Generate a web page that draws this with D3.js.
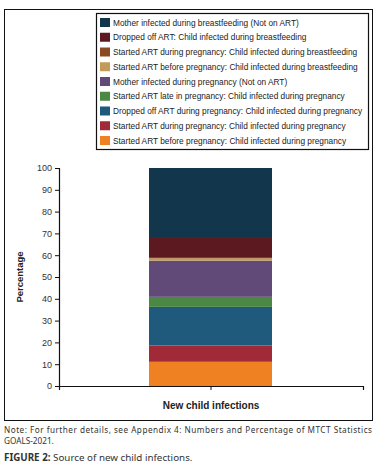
<!DOCTYPE html>
<html><head><meta charset="utf-8">
<script src="https://cdn.jsdelivr.net/npm/d3@7"></script>
<style>
body{margin:0;background:#fff;}
svg{display:block;font-family:"Liberation Sans Narrow","Liberation Sans",Arial,sans-serif;}
</style></head><body>
<svg id="c" width="380" height="475"></svg>
<script>
// Series (bottom to top) and their values (percent)
const seriesNames = [
  "Started ART before pregnancy: Child infected during pregnancy",
  "Started ART during pregnancy: Child infected during pregnancy",
  "Dropped off ART during pregnancy: Child infected during pregnancy",
  "Started ART late in pregnancy: Child infected during pregnancy",
  "Mother infected during pregnancy (Not on ART)",
  "Started ART before pregnancy: Child infected during breastfeeding",
  "Started ART during pregnancy: Child infected during breastfeeding",
  "Dropped off ART: Child infected during breastfeeding",
  "Mother infected during breastfeeding (Not on ART)"
];
const seriesValues = [11.1, 7.5, 17.7, 4.6, 16.6, 1.1, 0.2, 9.1, 32.1];
const seriesColors = ["#ef8123","#a02a37","#1f597c","#4a8844","#614a78","#c49a5a","#8b4a22","#5c1a20","#12364b"];
const categories = ["New child infections"];
const yTicks = [0,10,20,30,40,50,60,70,80,90,100];

const svg = d3.select("#c");

// outer frame
svg.append("rect").attr("x",4.5).attr("y",9.5).attr("width",368).attr("height",411)
  .attr("fill","none").attr("stroke","#111").attr("stroke-width",1);

// legend box
const lg = svg.append("g");
lg.append("rect").attr("x",96.5).attr("y",13.5).attr("width",272).attr("height",136)
  .attr("fill","none").attr("stroke","#111").attr("stroke-width",1.2);
const legendOrder = d3.range(seriesNames.length).reverse();
const ly = d3.scalePoint().domain(legendOrder).range([22.5,140.5]);
legendOrder.forEach(i=>{
  const y = ly(i);
  lg.append("rect").attr("x",100).attr("y",y-4.5).attr("width",10).attr("height",9).attr("fill",seriesColors[i]);
  lg.append("text").attr("x",113).attr("y",y+3).attr("font-size",8.3).attr("fill","#222")
    .attr("font-family","'Liberation Sans Narrow','Liberation Sans',Arial,sans-serif")
    .text(seriesNames[i]);
});

// scales
const x = d3.scaleBand().domain(categories).range([59,363]).paddingInner(0).paddingOuter(0);
const y = d3.scaleLinear().domain([0,100]).range([386,168]);

// stacked bar
const row = {cat: categories[0]};
seriesValues.forEach((v,i)=>row["s"+i]=v);
const stack = d3.stack().keys(seriesValues.map((v,i)=>"s"+i))([row]);
const barW = 123;
const cx = x(categories[0]) + x.bandwidth()/2;
svg.append("g").selectAll("rect").data(stack).join("rect")
  .attr("x", cx - barW/2 - 0.5).attr("width", barW)
  .attr("y", d=>y(d[0][1])).attr("height", d=>y(d[0][0]) - y(d[0][1]))
  .attr("fill",(d,i)=>seriesColors[i]);

// y axis
const ya = svg.append("g").attr("transform","translate(59,0)")
  .call(d3.axisLeft(y).tickValues(yTicks).tickSize(4).tickPadding(3));
ya.select(".domain").attr("stroke","#111").attr("stroke-width",1.2);
ya.selectAll(".tick line").attr("stroke","#111");
ya.selectAll("text").attr("font-size",9).attr("fill","#333").attr("font-family","'Liberation Sans Narrow','Liberation Sans',Arial,sans-serif");

// x axis
const xa = svg.append("g").attr("transform","translate(0,386)")
  .call(d3.axisBottom(x).tickSize(4).tickSizeOuter(4).tickFormat(""));
xa.select(".domain").attr("stroke","#111").attr("stroke-width",1.2);
xa.selectAll(".tick line").attr("stroke","#111");

// axis titles
svg.append("text").attr("x",cx).attr("y",409).attr("text-anchor","middle")
  .attr("font-size",10).attr("font-weight","bold").attr("fill","#222")
  .attr("font-family","'Liberation Sans',Arial,sans-serif").text(categories[0]);
svg.append("text").attr("transform","translate(23,277) rotate(-90)").attr("text-anchor","middle")
  .attr("font-size",9.5).attr("font-weight","bold").attr("fill","#222")
  .attr("font-family","'Liberation Sans',Arial,sans-serif").text("Percentage");

// notes
const nf = "'Noto Sans','Open Sans',Arial,sans-serif";
svg.append("text").attr("x",4).attr("y",433).attr("font-size",8.2).attr("fill","#333").attr("font-family",nf)
  .attr("textLength",368).attr("lengthAdjust","spacing")
  .text("Note: For further details, see Appendix 4: Numbers and Percentage of MTCT Statistics");
svg.append("text").attr("x",4).attr("y",444).attr("font-size",8.2).attr("fill","#333").attr("font-family",nf)
  .text("GOALS-2021.");
const cap = svg.append("text").attr("x",4).attr("y",461).attr("font-size",9.8).attr("fill","#333").attr("font-family",nf);
cap.append("tspan").attr("font-weight","bold").text("FIGURE 2: ");
cap.append("tspan").text("Source of new child infections.");
</script>
</body></html>
